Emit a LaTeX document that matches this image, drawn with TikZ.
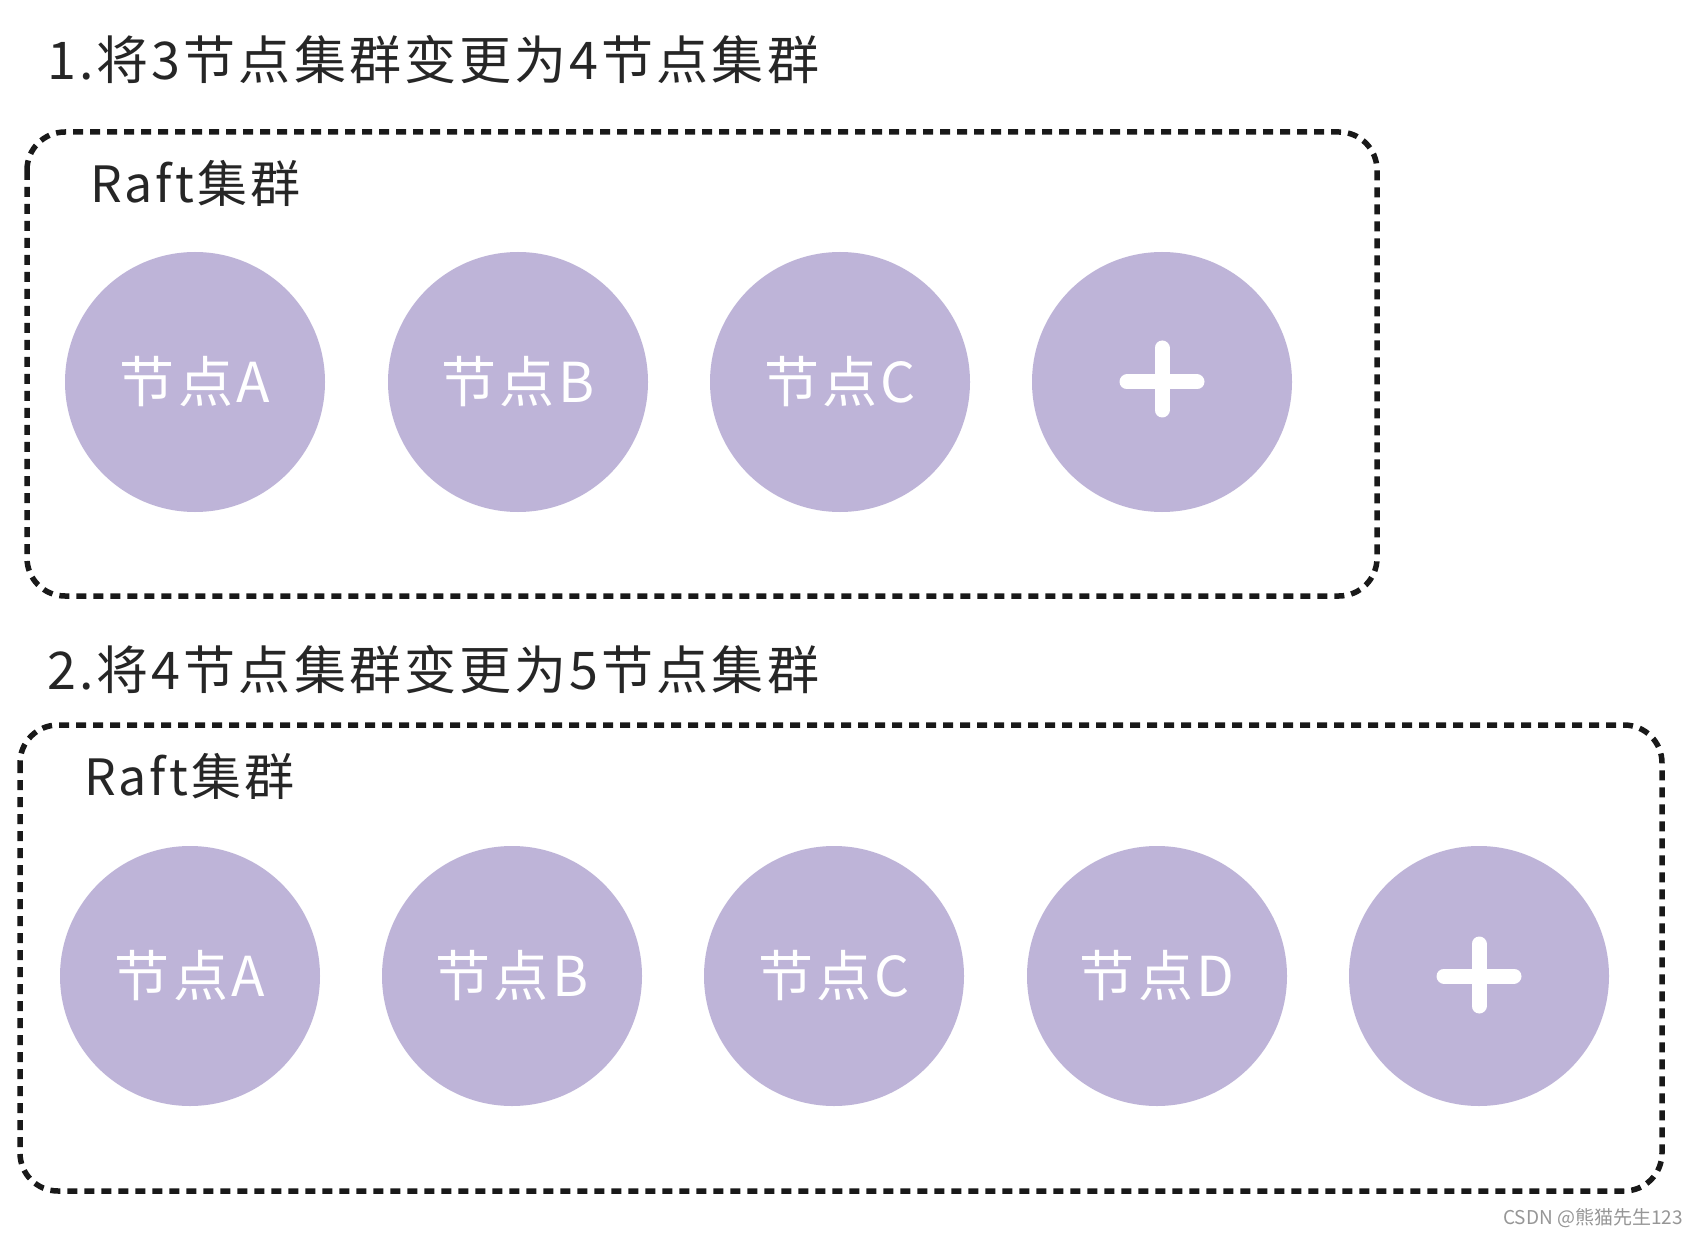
\documentclass[tikz,border=0pt]{standalone}
\usepackage{fontspec}
\newfontfamily\cjk{Noto Sans CJK SC}
\newfontfamily\cjksp[LetterSpace=6]{Noto Sans CJK SC}
\definecolor{nodefill}{RGB}{190,180,216}
\definecolor{wm}{RGB}{150,150,150}
\begin{document}
\begin{tikzpicture}[x=1pt,y=-1pt,
  clusterbox/.style={draw=black!90,line width=5.5pt,dash pattern=on 10pt off 7pt,rounded corners=38pt},
  member/.style={circle,fill=nodefill,minimum size=260pt,inner sep=0pt,text=white,font=\cjksp\fontsize{55}{58}\selectfont},
  heading/.style={anchor=west,inner sep=0pt,text=black!85,font=\cjksp\fontsize{52}{56}\selectfont},
  boxlabel/.style={anchor=west,inner sep=0pt,text=black!85,font=\cjksp\fontsize{50}{54}\selectfont},
  plusbar/.style={draw=white,line width=15pt,line cap=round}]
\useasboundingbox (0,0) rectangle (1698,1238);
\fill[white] (0,0) rectangle (1698,1238);
% section 1
\node[heading] (t1) at (47,60) {1.将3节点集群变更为4节点集群};
\draw[clusterbox] (27,132) rectangle (1377,596);
\node[boxlabel] (r1) at (90,183) {Raft集群};
\node[member] (a1) at (195,382) {节点A};
\node[member] (b1) at (518,382) {节点B};
\node[member] (c1) at (840,382) {节点C};
\node[member] (p1) at (1162,382) {};
\draw[plusbar] ([xshift=-35pt]p1.center) -- ([xshift=35pt]p1.center);
\draw[plusbar] ([yshift=-28pt]p1.center) -- ([yshift=34pt]p1.center);
% section 2
\node[heading] (t2) at (47,670) {2.将4节点集群变更为5节点集群};
\draw[clusterbox] (20,725) rectangle (1662,1191);
\node[boxlabel] (r2) at (84,776) {Raft集群};
\node[member] (a2) at (190,976) {节点A};
\node[member] (b2) at (512,976) {节点B};
\node[member] (c2) at (834,976) {节点C};
\node[member] (d2) at (1157,976) {节点D};
\node[member] (p2) at (1479,976) {};
\draw[plusbar] ([xshift=-35pt]p2.center) -- ([xshift=35pt]p2.center);
\draw[plusbar] ([yshift=-30pt]p2.center) -- ([yshift=32pt]p2.center);
% watermark
\node[anchor=east,inner sep=0pt,text=wm,font=\cjk\fontsize{19}{21}\selectfont] (wmk) at (1683,1218) {CSDN @熊猫先生123};
\end{tikzpicture}
\end{document}
